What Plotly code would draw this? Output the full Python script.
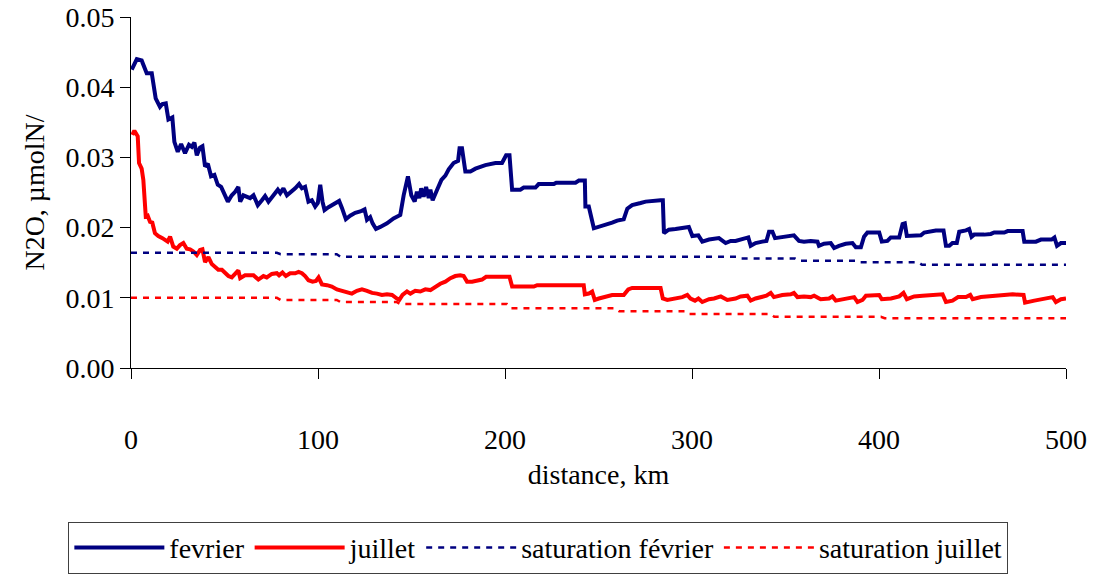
import plotly.graph_objects as go

# ---- data (distance km, N2O) ----
fev_x = [0.4, 3.1, 5.7, 8.4, 11.1, 13.2, 15.5, 16.8, 18.6, 20.0, 22.1, 23.2, 25.0, 26.8, 28.9, 31.0, 32.5, 33.9, 35.2, 36.9,
         38.2, 39.6, 41.1, 42.8, 44.6, 46.4, 48.2, 49.9, 51.8, 53.9, 55.7, 57.4, 58.4, 60.1, 61.9, 63.7, 65.5, 67.8, 70.0, 71.7,
         73.5, 76.2, 78.5, 79.8, 81.5, 83.4, 86.0, 87.8, 89.9, 91.4, 93.1, 94.9, 96.7, 98.5, 99.9, 101.2, 102.4, 103.5, 105.6, 108.3,
         111.3, 112.8, 114.9, 117.2, 119.9, 122.6, 124.9, 126.2, 127.9, 129.2, 131.0, 133.3, 136.9, 140.4, 144.0, 145.8, 148.1, 149.9, 151.7, 152.9,
         154.2, 155.2, 156.5, 157.8, 159.2, 160.1, 161.3, 163.7, 166.0, 168.1, 169.9, 172.5, 174.9, 175.7, 177.0, 178.8, 181.5, 184.2, 189.5, 194.9,
         198.4, 200.6, 202.4, 203.8, 208.2, 210.0, 216.3, 218.0, 226.1, 227.4, 237.7, 239.5, 242.7, 243.0, 244.8, 247.5, 250.2, 252.8, 257.3, 260.0,
         263.5, 265.4, 268.0, 272.5, 275.2, 283.2, 284.4, 285.0, 287.6, 291.2, 294.8, 298.3, 300.2, 303.4, 305.5, 309.1, 314.4, 318.0, 320.7, 323.3,
         328.7, 330.1, 331.4, 334.0, 337.6, 339.8, 341.2, 343.0, 344.4, 348.3, 351.0, 354.5, 357.2, 359.9, 363.5, 367.1, 367.9, 370.6, 374.2, 376.0,
         378.6, 382.2, 385.8, 387.6, 390.3, 392.0, 393.8, 400.1, 401.5, 404.5, 406.3, 410.8, 412.6, 413.8, 414.9, 418.8, 422.4, 424.2, 430.4, 434.5,
         435.8, 437.6, 439.3, 441.6, 442.9, 446.5, 448.2, 449.5, 450.9, 456.3, 459.8, 461.6, 467.0, 468.8, 476.8, 477.7, 483.9, 486.6, 492.3, 493.8,
         495.2, 497.3, 500.0]
fev_y = [0.0425, 0.0440, 0.0438, 0.0420, 0.0420, 0.0384, 0.0372, 0.0376, 0.0377, 0.0354, 0.0357, 0.0322, 0.0308, 0.0319, 0.0306, 0.0318, 0.0315, 0.0321, 0.0303, 0.0314,
         0.0316, 0.0287, 0.0291, 0.0273, 0.0275, 0.0261, 0.0258, 0.0249, 0.0237, 0.0246, 0.0251, 0.0258, 0.0237, 0.0246, 0.0244, 0.0242, 0.0246, 0.0232, 0.0239, 0.0245,
         0.0237, 0.0246, 0.0254, 0.0249, 0.0256, 0.0246, 0.0251, 0.0256, 0.0262, 0.0256, 0.0258, 0.0237, 0.0239, 0.0230, 0.0235, 0.0261, 0.0237, 0.0225, 0.0229, 0.0234,
         0.0238, 0.0228, 0.0212, 0.0217, 0.0221, 0.0223, 0.0226, 0.0211, 0.0215, 0.0206, 0.0198, 0.0201, 0.0206, 0.0213, 0.0218, 0.0246, 0.0273, 0.0246, 0.0237, 0.0251,
         0.0242, 0.0256, 0.0244, 0.0258, 0.0242, 0.0254, 0.0239, 0.0254, 0.0268, 0.0274, 0.0283, 0.0292, 0.0295, 0.0313, 0.0313, 0.0280, 0.0280, 0.0284, 0.0289, 0.0292,
         0.0292, 0.0303, 0.0303, 0.0254, 0.0254, 0.0257, 0.0257, 0.0262, 0.0262, 0.0264, 0.0264, 0.0267, 0.0267, 0.0230, 0.0230, 0.0199, 0.0201, 0.0204, 0.0207, 0.0210,
         0.0212, 0.0227, 0.0232, 0.0235, 0.0237, 0.0239, 0.0239, 0.0192, 0.0197, 0.0198, 0.0200, 0.0201, 0.0188, 0.0189, 0.0180, 0.0183, 0.0185, 0.0178, 0.0181, 0.0181,
         0.0185, 0.0186, 0.0174, 0.0178, 0.0180, 0.0181, 0.0194, 0.0194, 0.0185, 0.0186, 0.0188, 0.0189, 0.0181, 0.0180, 0.0181, 0.0180, 0.0174, 0.0177, 0.0178, 0.0171,
         0.0174, 0.0177, 0.0178, 0.0172, 0.0172, 0.0187, 0.0193, 0.0193, 0.0180, 0.0181, 0.0186, 0.0186, 0.0205, 0.0206, 0.0188, 0.0188, 0.0189, 0.0193, 0.0196, 0.0196,
         0.0174, 0.0174, 0.0178, 0.0178, 0.0194, 0.0196, 0.0198, 0.0187, 0.0190, 0.0190, 0.0191, 0.0193, 0.0193, 0.0195, 0.0195, 0.0180, 0.0180, 0.0183, 0.0183, 0.0186,
         0.0174, 0.0178, 0.0178]

jui_x = [0.7, 1.8, 3.6, 4.3, 5.7, 6.6, 7.9, 8.9, 10.2, 11.4, 12.8, 14.6, 16.8, 18.2, 19.6, 20.9, 22.6, 24.5, 26.2, 28.0,
         29.8, 31.6, 33.4, 35.2, 36.9, 38.2, 39.6, 41.4, 43.2, 45.0, 46.7, 48.6, 50.3, 52.1, 53.9, 55.7, 57.4, 58.4, 61.0, 63.7,
         65.5, 68.1, 70.8, 72.6, 75.3, 78.0, 79.2, 81.0, 82.8, 85.1, 87.8, 89.6, 91.4, 93.1, 94.9, 97.1, 98.9, 100.3, 102.1, 104.8,
         107.4, 110.1, 112.8, 115.5, 118.1, 120.8, 123.5, 126.2, 128.9, 131.5, 134.2, 136.9, 139.6, 142.2, 143.5, 145.2, 147.6, 149.4, 152.0, 154.7,
         157.4, 160.1, 162.7, 165.4, 168.1, 170.8, 173.4, 176.1, 177.9, 179.7, 182.4, 185.1, 187.7, 189.9, 194.9, 200.2, 202.4, 203.8, 215.4, 217.2,
         242.1, 242.7, 244.8, 246.6, 248.0, 250.2, 255.5, 257.3, 263.5, 265.9, 268.0, 283.2, 284.4, 286.8, 294.8, 297.5, 299.2, 301.6, 303.4, 305.5,
         309.1, 311.8, 315.4, 318.9, 323.3, 326.0, 329.6, 331.4, 334.0, 337.6, 339.8, 342.1, 343.8, 348.3, 352.8, 354.5, 356.4, 359.9, 363.5, 365.3,
         367.1, 368.8, 373.3, 375.1, 376.9, 382.2, 386.7, 388.5, 391.2, 393.0, 396.6, 400.1, 401.5, 403.2, 406.4, 410.8, 413.1, 414.9, 418.8, 423.3,
         426.8, 434.0, 435.8, 439.3, 442.3, 446.5, 448.8, 450.1, 454.5, 459.8, 466.1, 471.5, 477.3, 478.1, 483.1, 486.6, 491.6, 492.9, 494.6, 497.3,
         500.0]
jui_y = [0.0332, 0.0338, 0.0330, 0.0292, 0.0284, 0.0268, 0.0216, 0.0217, 0.0208, 0.0207, 0.0192, 0.0188, 0.0185, 0.0183, 0.0180, 0.0187, 0.0173, 0.0170, 0.0175, 0.0178,
         0.0170, 0.0169, 0.0166, 0.0161, 0.0168, 0.0169, 0.0151, 0.0158, 0.0148, 0.0144, 0.0140, 0.0140, 0.0135, 0.0131, 0.0129, 0.0135, 0.0139, 0.0128, 0.0132, 0.0132,
         0.0132, 0.0126, 0.0131, 0.0129, 0.0134, 0.0135, 0.0132, 0.0136, 0.0131, 0.0135, 0.0135, 0.0137, 0.0135, 0.0131, 0.0125, 0.0123, 0.0124, 0.0129, 0.0119, 0.0118,
         0.0116, 0.0112, 0.0110, 0.0107, 0.0106, 0.0110, 0.0112, 0.0110, 0.0107, 0.0106, 0.0104, 0.0105, 0.0104, 0.0099, 0.0097, 0.0104, 0.0109, 0.0106, 0.0110, 0.0109,
         0.0112, 0.0111, 0.0116, 0.0120, 0.0123, 0.0128, 0.0131, 0.0132, 0.0131, 0.0123, 0.0123, 0.0125, 0.0126, 0.0130, 0.0130, 0.0130, 0.0130, 0.0116, 0.0116, 0.0118,
         0.0118, 0.0105, 0.0106, 0.0109, 0.0097, 0.0099, 0.0102, 0.0104, 0.0104, 0.0112, 0.0114, 0.0114, 0.0099, 0.0097, 0.0101, 0.0104, 0.0099, 0.0096, 0.0099, 0.0094,
         0.0098, 0.0099, 0.0102, 0.0097, 0.0099, 0.0102, 0.0103, 0.0096, 0.0099, 0.0101, 0.0103, 0.0107, 0.0101, 0.0104, 0.0105, 0.0107, 0.0101, 0.0102, 0.0101, 0.0103,
         0.0101, 0.0098, 0.0099, 0.0102, 0.0096, 0.0098, 0.0101, 0.0094, 0.0097, 0.0103, 0.0104, 0.0104, 0.0098, 0.0098, 0.0099, 0.0102, 0.0107, 0.0098, 0.0102, 0.0103,
         0.0104, 0.0105, 0.0094, 0.0096, 0.0101, 0.0101, 0.0104, 0.0098, 0.0101, 0.0102, 0.0104, 0.0105, 0.0104, 0.0093, 0.0096, 0.0098, 0.0101, 0.0101, 0.0094, 0.0098,
         0.0099]

sat_fev_x = [0, 78, 80, 110, 112, 324, 326, 355, 357, 388, 390, 421, 423, 500]
sat_fev_y = [0.0164, 0.0164, 0.0162, 0.0162, 0.01585, 0.01585, 0.0156, 0.0156, 0.01528, 0.01528, 0.01505, 0.01505, 0.0147, 0.0147]

sat_jui_x = [0, 78, 80, 110, 112, 142, 144, 201, 203, 259, 261, 296, 298, 342, 344, 401, 403, 500]
sat_jui_y = [0.0100, 0.0100, 0.0097, 0.0097, 0.0094, 0.0094, 0.0091, 0.0091, 0.0085, 0.0085, 0.0081, 0.0081,
             0.0077, 0.0077, 0.0073, 0.0073, 0.0071, 0.0071]

names = ["fevrier", "juillet", "saturation février", "saturation juillet"]
NAVY = "#000080"
RED = "#FF0000"
FONT = "Liberation Serif"

fig = go.Figure()
fig.add_trace(go.Scatter(x=fev_x, y=fev_y, mode="lines", name=names[0],
                         line=dict(color=NAVY, width=4)))
fig.add_trace(go.Scatter(x=jui_x, y=jui_y, mode="lines", name=names[1],
                         line=dict(color=RED, width=4)))
fig.add_trace(go.Scatter(x=sat_fev_x, y=sat_fev_y, mode="lines", name=names[2],
                         line=dict(color=NAVY, width=2.5, dash="6px,6px")))
fig.add_trace(go.Scatter(x=sat_jui_x, y=sat_jui_y, mode="lines", name=names[3],
                         line=dict(color=RED, width=2.5, dash="6px,6px")))

fig.update_layout(
    width=1099, height=574,
    margin=dict(l=131, r=33, t=17, b=206, autoexpand=False),
    paper_bgcolor="white", plot_bgcolor="white",
    font=dict(family=FONT, size=28, color="black"),
    showlegend=True,
    legend=dict(orientation="h", x=-0.067, y=-0.438, xanchor="left", yanchor="top",
                bordercolor="#404040", borderwidth=1, itemwidth=90,
                font=dict(family=FONT, size=28, color="black"),
                tracegroupgap=0, itemclick=False),
)
fig.update_xaxes(range=[0, 500], tickmode="linear", tick0=0, dtick=100, automargin=False,
                 showgrid=False, zeroline=False, showline=True, linecolor="black", linewidth=1,
                 ticks="outside", ticklen=10, tickcolor="black", ticklabelstandoff=36,
                 tickfont=dict(family=FONT, size=28),
                 title=dict(text="distance, km", standoff=10, font=dict(family=FONT, size=28)))
fig.update_yaxes(range=[0, 0.05], tickmode="linear", tick0=0, dtick=0.01, tickformat=".2f", automargin=False,
                 showgrid=False, zeroline=False, showline=True, linecolor="black", linewidth=1,
                 ticks="outside", ticklen=10, tickcolor="black",
                 tickfont=dict(family=FONT, size=28),
                 title=dict(text="N2O, µmolN/", standoff=12, font=dict(family=FONT, size=28)))

fig.write_html("out.html")
